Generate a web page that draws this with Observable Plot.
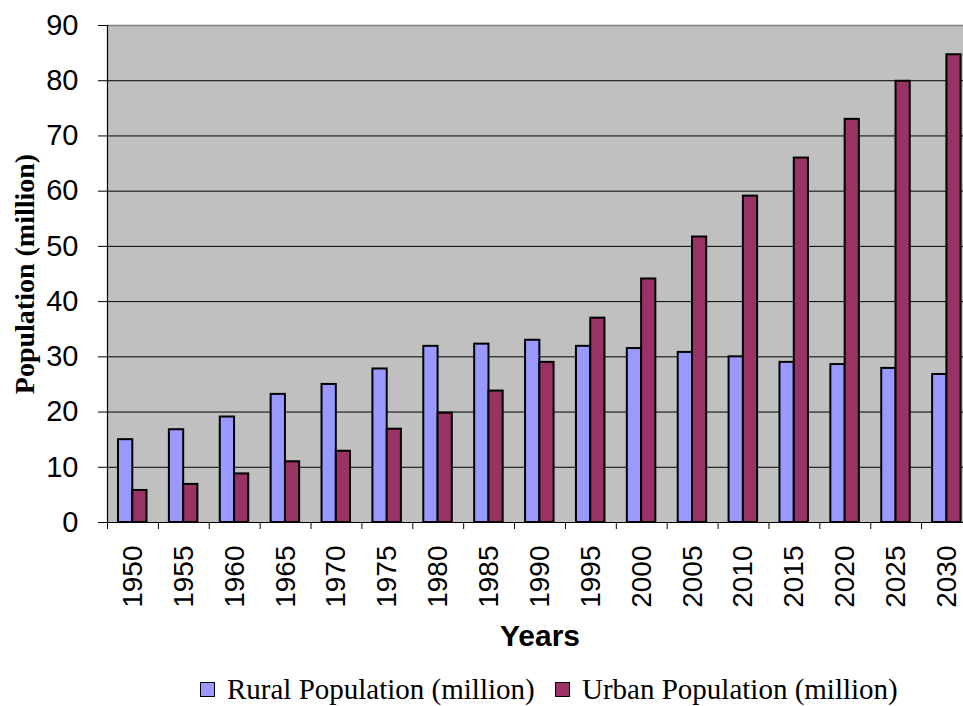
<!DOCTYPE html>
<html>
<head>
<meta charset="utf-8">
<script src="https://cdn.jsdelivr.net/npm/d3@7"></script>
<script src="https://cdn.jsdelivr.net/npm/@observablehq/plot@0.6"></script>
<style>
  html, body { margin: 0; padding: 0; background: #ffffff; width: 963px; height: 706px; overflow: hidden; }
  #legend { position: relative; height: 46px; margin-top: 6px; font-family: "Liberation Serif", "Times New Roman", serif; font-size: 29px; color: #000; }
  .item { position: absolute; top: 0; display: flex; align-items: center; height: 46px; white-space: nowrap; }
  .sw { width: 13px; height: 13px; border: 1.5px solid #000; margin-right: 12px; }
</style>
</head>
<body>
<div id="chart"></div>
<div id="legend"></div>
<script>
const years = ["1950","1955","1960","1965","1970","1975","1980","1985","1990","1995","2000","2005","2010","2015","2020","2025","2030"];
const rural = [15, 16.8, 19.1, 23.2, 25, 27.8, 31.9, 32.3, 33, 31.9, 31.5, 30.8, 30, 29, 28.6, 27.9, 26.8];
const urban = [5.8, 6.9, 8.8, 11, 12.9, 16.9, 19.8, 23.8, 29, 37, 44.1, 51.7, 59.1, 66, 73, 79.9, 84.7];
const seriesNames = ["Rural Population (million)", "Urban Population (million)"];
const seriesColors = ["#9999FF", "#993366"];
const yTicks = [0, 10, 20, 30, 40, 50, 60, 70, 80, 90];
const gridTicks = [10, 20, 30, 40, 50, 60, 70, 80];

const ruralData = years.map((y, i) => ({year: y, value: rural[i]}));
const urbanData = years.map((y, i) => ({year: y, value: urban[i]}));

const W = 963, H = 660, mL = 107, mR = -9, mT = 25, mB = 138;
const bw = (W - mR - mL) / years.length;

const chart = Plot.plot({
  width: W,
  height: H,
  marginLeft: mL,
  marginRight: mR,
  marginTop: mT,
  marginBottom: mB,
  style: {fontFamily: "'Liberation Sans', Arial, sans-serif", color: "#000", background: "transparent", overflow: "visible"},
  x: {type: "band", domain: years, padding: 0, round: false},
  y: {domain: [0, 90]},
  marks: [
    Plot.frame({fill: "#C0C0C0", stroke: null}),
    Plot.gridY(gridTicks, {stroke: "#000", strokeOpacity: 1, strokeWidth: 1}),
    Plot.barY(ruralData, {x: "year", y: "value", fill: seriesColors[0], stroke: "#000", strokeWidth: 2,
      insetLeft: 11, insetRight: bw - 25.3}),
    Plot.barY(urbanData, {x: "year", y: "value", fill: seriesColors[1], stroke: "#000", strokeWidth: 2,
      insetLeft: 25.3, insetRight: bw - 39.5}),
    Plot.ruleY([90], {stroke: "#808080", strokeWidth: 1.5}),
    Plot.ruleY([0], {stroke: "#000", strokeWidth: 1.2}),
    Plot.frame({anchor: "left", stroke: "#000", strokeWidth: 1.2}),
    Plot.axisY(yTicks, {tickSize: 9, tickPadding: 20, fontSize: 29, label: null}),
    Plot.axisX({tickSize: 0, tickRotate: -90, tickPadding: 23, fontSize: 28, label: null}),
    Plot.axisX({tickSize: 7, tickFormat: () => "", dx: -bw / 2, label: null}),
    Plot.text(["Years"], {frameAnchor: "bottom", lineAnchor: "middle", dy: 114, fontSize: 30, fontWeight: "bold"}),
    Plot.text(["Population (million)"], {frameAnchor: "left", textAnchor: "middle", lineAnchor: "middle", rotate: -90, dx: -82, fontSize: 28,
      fontWeight: "bold", fontFamily: "'Liberation Serif', 'Times New Roman', serif"})
  ]
});
document.getElementById("chart").appendChild(chart);

const legend = document.getElementById("legend");
const lefts = [200, 555];
seriesNames.forEach((name, i) => {
  const item = document.createElement("div");
  item.className = "item";
  item.style.left = lefts[i] + "px";
  const sw = document.createElement("span");
  sw.className = "sw";
  sw.style.background = seriesColors[i];
  const label = document.createElement("span");
  label.textContent = name;
  item.appendChild(sw);
  item.appendChild(label);
  legend.appendChild(item);
});
</script>
</body>
</html>
